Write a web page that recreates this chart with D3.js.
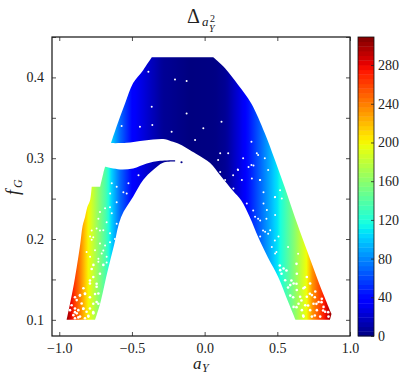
<!DOCTYPE html>
<html>
<head>
<meta charset="utf-8">
<script src="https://cdn.jsdelivr.net/npm/d3@7"></script>
<style>
  html, body { margin: 0; padding: 0; background: #fff; }
  text { font-family: "Liberation Serif", serif; fill: #222; }
</style>
</head>
<body>
<div id="chart"></div>
<script>
// outline of the upper scatter cloud
let upperA = [-0.644, -0.602, -0.547, -0.492, -0.423, -0.364, 0.059, 0.139, 0.231, 0.32, 0.414, 0.483, 0.551, 0.621, 0.69, 0.759, 0.816, 0.873, 0.862, 0.625, 0.575, 0.506, 0.437, 0.368, 0.311, 0.251, 0.196, 0.107, 0.038, -0.045, -0.1, -0.157, -0.217, -0.272, -0.355, -0.444, -0.536];
let upperF = [0.3187, 0.341, 0.368, 0.393, 0.409, 0.4248, 0.4248, 0.4115, 0.3905, 0.368, 0.331, 0.298, 0.264, 0.227, 0.1925, 0.159, 0.132, 0.1074, 0.1, 0.1, 0.122, 0.153, 0.1764, 0.2024, 0.227, 0.248, 0.2593, 0.279, 0.294, 0.304, 0.31, 0.3162, 0.3203, 0.3236, 0.3233, 0.3212, 0.319];
let upperCorners = [0, 5, 6, 17, 18, 19, 37];

// outline of the lower scatter cloud
let lowerA = [-0.685, -0.582, -0.492, -0.398, -0.306, -0.203, -0.203, -0.286, -0.355, -0.423, -0.492, -0.575, -0.623, -0.671, -0.719, -0.754, -0.949, -0.907, -0.88, -0.857, -0.839, -0.823, -0.807, -0.788, -0.777, -0.719, -0.697];
let lowerF = [0.2893, 0.2861, 0.2874, 0.2936, 0.2968, 0.2976, 0.2958, 0.2943, 0.2853, 0.2729, 0.2522, 0.2271, 0.1925, 0.1578, 0.12, 0.1, 0.1, 0.1368, 0.1652, 0.192, 0.2168, 0.227, 0.2395, 0.248, 0.2646, 0.2646, 0.2815];
let lowerCorners = [0, 5, 6, 15, 16, 24, 25, 27];

// colour value against a_Y
let deltaA = [-1.05, -0.95, -0.905, -0.85, -0.8, -0.73, -0.67, -0.65, -0.58, -0.49, -0.29, -0.1, 0.07, 0.15, 0.25, 0.35, 0.417, 0.5, 0.55, 0.61, 0.66, 0.705, 0.74, 0.8, 0.86, 0.875, 1];
let deltaV = [309, 305, 270, 235, 200, 160, 130, 108, 70, 35, 6, 0, 1, 6, 28, 58, 80, 108, 130, 155, 180, 200, 232, 262, 295, 305, 309];

// white gaps between the scatter points
let gapA = [-0.823, -0.857, -0.88, -0.846, -0.892, -0.926, -0.903, -0.869, -0.834, -0.812, -0.789, -0.766, -0.743, -0.8, -0.857, -0.892, -0.766, -0.823, -0.88, -0.731, -0.743, -0.789, -0.766, -0.834, -0.697, -0.743, -0.788, -0.777, -0.72, -0.685, -0.754, -0.708, -0.788, -0.674, -0.731, -0.765, -0.651, -0.639, -0.685, -0.731, -0.605, -0.697, 0.52, 0.543, 0.612, 0.589, 0.634, 0.68, 0.554, 0.657, 0.703, 0.738, 0.749, 0.692, 0.646, 0.612, 0.669, 0.726, 0.772, 0.784, 0.818, 0.829, 0.738, 0.68, 0.795, 0.852, 0.634, 0.703, 0.726, 0.761, 0.589, 0.806, 0.107, 0.228, 0.336, 0.256, 0.382, 0.325, 0.198, 0.405, 0.519, 0.485, 0.531, 0.405, 0.29, 0.428, 0.382, 0.347, 0.485, 0.416, 0.451, 0.462, 0.382, 0.485, 0.508, 0.107, 0.359, 0.141, 0.302, -0.204, -0.124, -0.227, -0.36, -0.445, -0.571, -0.066, -0.364, -0.387, -0.009, -0.124, 0.322, 0.368, 0.23, 0.322, 0.162, 0.116, 0.437, 0.414, 0.38, 0.265, 0.093, 0.196, -0.639, -0.524, -0.536, -0.559, -0.455, -0.605, -0.65,
  -0.892, -0.915, -0.858, -0.823, -0.789, -0.754, -0.731, -0.766, -0.835, -0.892, -0.869, -0.8, -0.743, -0.789, -0.72, -0.777, -0.674, -0.731, -0.812, -0.697, -0.651, -0.766, -0.617, -0.72, -0.674, -0.777, -0.72, -0.651, -0.605, -0.536,
  0.632, 0.597, 0.689, 0.724, 0.758, 0.804, 0.85, 0.815, 0.769, 0.712, 0.666, 0.632, 0.678, 0.758, 0.609, 0.574, 0.529, 0.563, 0.632, 0.517, 0.643, 0.574, 0.494, 0.437, 0.483, 0.368, 0.483, 0.402, 0.425, 0.334];
let gapF = [0.1326, 0.1306, 0.1244, 0.1202, 0.114, 0.112, 0.1058, 0.112, 0.114, 0.11, 0.114, 0.12, 0.122, 0.104, 0.104, 0.102, 0.108, 0.102, 0.108, 0.1326, 0.141, 0.145, 0.153, 0.139, 0.211, 0.213, 0.203, 0.199, 0.1945, 0.192, 0.186, 0.182, 0.178, 0.178, 0.172, 0.168, 0.207, 0.232, 0.238, 0.225, 0.219, 0.168, 0.1615, 0.1636, 0.145, 0.143, 0.137, 0.139, 0.149, 0.1285, 0.1285, 0.1306, 0.12, 0.118, 0.12, 0.116, 0.112, 0.112, 0.112, 0.122, 0.116, 0.11, 0.104, 0.104, 0.104, 0.104, 0.157, 0.153, 0.145, 0.135, 0.13, 0.126, 0.283, 0.286, 0.291, 0.273, 0.273, 0.275, 0.2626, 0.258, 0.2605, 0.252, 0.25, 0.244, 0.244, 0.236, 0.223, 0.2275, 0.2296, 0.209, 0.211, 0.19, 0.203, 0.182, 0.203, 0.306, 0.306, 0.273, 0.289, 0.3975, 0.3955, 0.3327, 0.341, 0.339, 0.3398, 0.3224, 0.3637, 0.407, 0.337, 0.3554, 0.3204, 0.3039, 0.2853, 0.2915, 0.306, 0.345, 0.2853, 0.3, 0.273, 0.3, 0.2977, 0.279, 0.269, 0.269, 0.2564, 0.258, 0.279, 0.2647, 0.2564,
  0.128, 0.118, 0.13, 0.132, 0.128, 0.132, 0.12, 0.1095, 0.1136, 0.1095, 0.103, 0.105, 0.1446, 0.1487, 0.157, 0.163, 0.171, 0.1755, 0.1838, 0.1858, 0.196, 0.2023, 0.2, 0.2106, 0.2209, 0.2106, 0.2333, 0.2394, 0.2456, 0.2353,
  0.1446, 0.1487, 0.1404, 0.1322, 0.128, 0.1219, 0.1095, 0.1115, 0.1198, 0.1177, 0.124, 0.1157, 0.1054, 0.1054, 0.128, 0.14, 0.157, 0.161, 0.1693, 0.1673, 0.1817, 0.19, 0.1838, 0.2064, 0.1982, 0.225, 0.2518, 0.2106, 0.225, 0.2353];

// the one point sitting apart from the lower cloud
let strayA = [-0.159];
let strayF = [0.295];

let xTicks = [-1, -0.5, 0, 0.5, 1];
let yTicks = [0.1, 0.15, 0.2, 0.25, 0.3, 0.35, 0.4, 0.45];
let yLabels = [0.1, 0.2, 0.3, 0.4];
let barTicks = [0, 40, 80, 120, 160, 200, 240, 280];

let width = 415;
let height = 374;
let left = 52;
let right = 350;
let top_ = 37;
let bottom = 336;
let barLeft = 358;
let barRight = 374;

let xScale = d3.scaleLinear().domain([-1.05, 1]).range([left, right]);
let yScale = d3.scaleLinear().domain([0.08, 0.45]).range([bottom, top_]);
let barScale = d3.scaleLinear().domain([0, 309]).range([bottom, top_]);
let deltaOf = d3.scaleLinear().domain(deltaA).range(deltaV);

// jet colormap
let jetR = d3.scaleLinear().domain([0, 0.35, 0.66, 0.89, 1]).range([0, 0, 255, 255, 128]);
let jetG = d3.scaleLinear().domain([0, 0.125, 0.375, 0.64, 0.91, 1]).range([0, 0, 255, 255, 0, 0]);
let jetB = d3.scaleLinear().domain([0, 0.11, 0.34, 0.65, 1]).range([128, 255, 255, 0, 0]);
let jet = (v) => {
  let t = v / 309;
  return d3.rgb(jetR(t), jetG(t), jetB(t)).formatHex();
};

let svg = d3.select('#chart').append('svg').attr('width', width).attr('height', height).style('display', 'block');

//colour runs along a_Y
let gradient = svg
  .append('defs')
  .append('linearGradient')
  .attr('id', 'delta')
  .attr('gradientUnits', 'userSpaceOnUse')
  .attr('x1', left)
  .attr('x2', right)
  .attr('y1', 0)
  .attr('y2', 0);

gradient
  .selectAll('stop')
  .data(xScale.ticks(100))
  .enter()
  .append('stop')
  .attr('offset', (d) => (xScale(d) - left) / (right - left))
  .attr('stop-color', (d) => jet(deltaOf(d)));

let edge = d3
  .line()
  .x((d) => xScale(d[0]))
  .y((d) => yScale(d[1]))
  .curve(d3.curveCatmullRom);

// smooth between corners, sharp at the corners
let cloudPath = (a, f, corners) => {
  let pts = d3.zip(a, f);
  pts.push(pts[0]);
  let d = '';
  for (let i = 0; i < corners.length - 1; i++) {
    let piece = edge(pts.slice(corners[i], corners[i + 1] + 1));
    d += i === 0 ? piece : 'L' + piece.slice(1);
  }
  return d + 'Z';
};

//clouds
svg
  .selectAll('.cloud')
  .data([cloudPath(upperA, upperF, upperCorners), cloudPath(lowerA, lowerF, lowerCorners)])
  .enter()
  .append('path')
  .attr('class', 'cloud')
  .attr('d', (d) => d)
  .attr('fill', 'url(#delta)');

//gaps, bigger where the cloud thins out near the bottom
svg
  .selectAll('.gap')
  .data(d3.zip(gapA, gapF))
  .enter()
  .append('circle')
  .attr('class', 'gap')
  .attr('cx', (d) => xScale(d[0]))
  .attr('cy', (d) => yScale(d[1]))
  .attr('r', (d) => (d[1] < 0.17 ? 1.3 : 1))
  .attr('fill', '#fff');

//stray point
svg
  .selectAll('.stray')
  .data(d3.zip(strayA, strayF))
  .enter()
  .append('circle')
  .attr('class', 'stray')
  .attr('cx', (d) => xScale(d[0]))
  .attr('cy', (d) => yScale(d[1]))
  .attr('r', 1.1)
  .attr('fill', (d) => jet(deltaOf(d[0])));

//frame
svg
  .append('rect')
  .attr('x', left)
  .attr('y', top_)
  .attr('width', right - left)
  .attr('height', bottom - top_)
  .attr('fill', 'none')
  .attr('stroke', '#111')
  .attr('stroke-width', 1.2);

let styleAxis = (g) => {
  g.select('.domain').remove();
  g.selectAll('line').attr('stroke', '#222').attr('stroke-width', 0.8);
  g.selectAll('text').style('font-size', '14px');
};

let xFormat = (d) => d3.format('.1f')(d).replace('-', '\u2212');
let yFormat = (d) => (yLabels.includes(d) ? d3.format('.1f')(d) : '');

//x-axis
svg
  .append('g')
  .attr('transform', 'translate(0, ' + bottom + ')')
  .call(d3.axisBottom(xScale).tickValues(xTicks).tickSizeInner(-4).tickPadding(7).tickFormat(xFormat))
  .call(styleAxis);

svg
  .append('g')
  .attr('transform', 'translate(0, ' + top_ + ')')
  .call(d3.axisTop(xScale).tickValues(xTicks).tickSizeInner(-4).tickFormat(''))
  .call(styleAxis);

//y-axis
svg
  .append('g')
  .attr('transform', 'translate(' + left + ', 0)')
  .call(d3.axisLeft(yScale).tickValues(yTicks).tickSizeInner(-4).tickPadding(8).tickFormat(yFormat))
  .call(styleAxis);

svg
  .append('g')
  .attr('transform', 'translate(' + right + ', 0)')
  .call(d3.axisRight(yScale).tickValues(yTicks).tickSizeInner(-4).tickFormat(''))
  .call(styleAxis);

//colorbar
let barStep = 309 / 64;

svg
  .selectAll('.band')
  .data(d3.range(64))
  .enter()
  .append('rect')
  .attr('class', 'band')
  .attr('x', barLeft)
  .attr('width', barRight - barLeft)
  .attr('y', (d) => barScale((d + 1) * barStep))
  .attr('height', barScale(0) - barScale(barStep) + 0.4)
  .attr('fill', (d) => jet((d + 0.5) * barStep));

svg
  .append('rect')
  .attr('x', barLeft)
  .attr('y', top_)
  .attr('width', barRight - barLeft)
  .attr('height', bottom - top_)
  .attr('fill', 'none')
  .attr('stroke', '#111')
  .attr('stroke-width', 0.8);

svg
  .append('g')
  .attr('transform', 'translate(' + barRight + ', 0)')
  .call(d3.axisRight(barScale).tickValues(barTicks).tickSizeInner(-3).tickPadding(4).tickFormat(d3.format('d')))
  .call(styleAxis);

//title and axis labels
let math = (x, y, size, str, italic) =>
  svg
    .append('text')
    .attr('x', x)
    .attr('y', y)
    .style('font-size', size + 'px')
    .style('font-style', italic ? 'italic' : 'normal')
    .text(str);

math(187, 23, 20, '\u0394', false);
math(202, 26, 13, 'a', true);
math(209, 32, 10, 'Y', true);
math(210, 22, 10, '2', false);

math(193, 369, 17, 'a', true);
math(202, 372, 12, 'Y', true);

svg
  .append('g')
  .attr('transform', 'translate(19, 195) rotate(-90)')
  .call((g) => {
    g.append('text').attr('x', 0).attr('y', 0).style('font-size', '18px').style('font-style', 'italic').text('f');
    g.append('text').attr('x', 7).attr('y', 3).style('font-size', '12px').style('font-style', 'italic').text('G');
  });
</script>
</body>
</html>
